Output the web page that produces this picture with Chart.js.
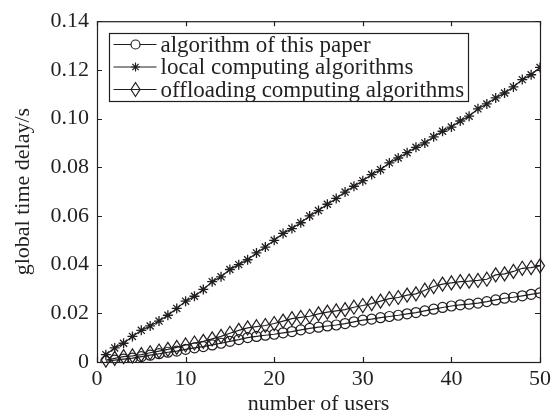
<!DOCTYPE html>
<html>
<head>
<meta charset="utf-8">
<script src="https://cdn.jsdelivr.net/npm/chart.js@4.4.1/dist/chart.umd.min.js"></script>
<style>
  html, body { margin: 0; padding: 0; background: #fff; }
  #wrap { width: 560px; height: 417px; }
</style>
</head>
<body>
<div id="wrap"><canvas id="delayChart" width="560" height="417"></canvas></div>
<script>
var users = [];
for (var i = 1; i <= 50; i++) { users.push(i); }

var paperDelay = [0.0003, 0.0008, 0.0012, 0.0016, 0.0022, 0.0028, 0.0034, 0.0040, 0.0045, 0.0052,
    0.0058, 0.0063, 0.0070, 0.0077, 0.0085, 0.0092, 0.0100, 0.0105, 0.0110, 0.0114,
    0.0120, 0.0125, 0.0132, 0.0138, 0.0143, 0.0148, 0.0152, 0.0158, 0.0165, 0.0172,
    0.0176, 0.0182, 0.0187, 0.0192, 0.0198, 0.0203, 0.0210, 0.0217, 0.0224, 0.0230,
    0.0235, 0.0238, 0.0242, 0.0248, 0.0255, 0.0262, 0.0266, 0.0272, 0.0278, 0.0284];

var localDelay = [0.0030, 0.0058, 0.0077, 0.0105, 0.0130, 0.0148, 0.0168, 0.0192, 0.0220, 0.0250,
    0.0270, 0.0298, 0.0330, 0.0350, 0.0380, 0.0400, 0.0420, 0.0448, 0.0472, 0.0500,
    0.0528, 0.0548, 0.0572, 0.0600, 0.0622, 0.0648, 0.0672, 0.0698, 0.0722, 0.0745,
    0.0770, 0.0790, 0.0818, 0.0838, 0.0860, 0.0882, 0.0900, 0.0925, 0.0948, 0.0965,
    0.0990, 0.1010, 0.1040, 0.1060, 0.1085, 0.1105, 0.1130, 0.1160, 0.1180, 0.1210];

var offloadDelay = [0.0008, 0.0015, 0.0022, 0.0025, 0.0030, 0.0038, 0.0045, 0.0052, 0.0060, 0.0070,
    0.0078, 0.0085, 0.0095, 0.0105, 0.0118, 0.0130, 0.0140, 0.0145, 0.0150, 0.0158,
    0.0168, 0.0178, 0.0183, 0.0188, 0.0198, 0.0205, 0.0210, 0.0215, 0.0225, 0.0232,
    0.0240, 0.0250, 0.0260, 0.0265, 0.0275, 0.0280, 0.0295, 0.0310, 0.0320, 0.0325,
    0.0330, 0.0332, 0.0335, 0.0340, 0.0358, 0.0362, 0.0372, 0.0385, 0.0388, 0.0395];

var seriesNames = ['algorithm of this paper', 'local computing algorithms', 'offloading computing algorithms'];
var xTicks = [0, 10, 20, 30, 40, 50];
var yTicks = [0, 0.02, 0.04, 0.06, 0.08, 0.10, 0.12, 0.14];

var ink = '#231f1f';
var serif = '"Liberation Serif", "DejaVu Serif", serif';

// narrow diamond, taller than wide
function drawDiamond(ctx, x, y) {
    ctx.beginPath();
    ctx.moveTo(x, y - 7);
    ctx.lineTo(x + 4.5, y);
    ctx.lineTo(x, y + 7);
    ctx.lineTo(x - 4.5, y);
    ctx.closePath();
    ctx.stroke();
}

function pairs(values) {
    return values.map(function (v, i) { return { x: users[i], y: v }; });
}

// diamonds for the third series, placed on the points the line controller computed
var diamondPlugin = {
    id: 'diamonds',
    afterDatasetsDraw: function (chart) {
        var ctx = chart.ctx;
        var meta = chart.getDatasetMeta(2);
        ctx.save();
        ctx.strokeStyle = ink;
        ctx.lineWidth = 1.2;
        meta.data.forEach(function (pt) { drawDiamond(ctx, pt.x, pt.y); });
        ctx.restore();
    }
};

// box, inward ticks and legend in matlab style
var framePlugin = {
    id: 'frame',
    afterDraw: function (chart) {
        var ctx = chart.ctx;
        var a = chart.chartArea;
        var xs = chart.scales.x, ys = chart.scales.y;
        ctx.save();
        ctx.strokeStyle = ink;
        ctx.lineWidth = 1.2;
        ctx.strokeRect(a.left + 0.5, a.top + 0.5, a.right - a.left, a.bottom - a.top);
        ctx.beginPath();
        xTicks.forEach(function (t) {
            var px = Math.round(xs.getPixelForValue(t)) + 0.5;
            ctx.moveTo(px, a.bottom); ctx.lineTo(px, a.bottom - 5);
            ctx.moveTo(px, a.top); ctx.lineTo(px, a.top + 5);
        });
        yTicks.forEach(function (t) {
            var py = Math.round(ys.getPixelForValue(t)) + 0.5;
            ctx.moveTo(a.left, py); ctx.lineTo(a.left + 5, py);
            ctx.moveTo(a.right, py); ctx.lineTo(a.right - 5, py);
        });
        ctx.stroke();

        // legend
        var bx = 109.5, by = 33.5, bw = 359, bh = 68;
        ctx.fillStyle = '#fff';
        ctx.fillRect(bx, by, bw, bh);
        ctx.strokeRect(bx, by, bw, bh);
        ctx.font = '23px ' + serif;
        ctx.textBaseline = 'middle';
        ctx.textAlign = 'left';
        chart.data.datasets.forEach(function (ds, i) {
            var ry = by + 11 + i * 22.5;
            ctx.strokeStyle = ink;
            ctx.lineWidth = 1.2;
            ctx.beginPath();
            ctx.moveTo(bx + 4, ry); ctx.lineTo(bx + 47, ry);
            ctx.stroke();
            if (i === 2) {
                drawDiamond(ctx, bx + 26, ry);
            } else {
                Chart.helpers.drawPoint(ctx, {
                    pointStyle: ds.pointStyle, radius: 4.5, borderWidth: 1.2, rotation: 0
                }, bx + 26, ry);
            }
            ctx.fillStyle = ink;
            ctx.fillText(ds.label, bx + 51, ry + 1);
        });
        ctx.restore();
    }
};

var chart = new Chart(document.getElementById('delayChart').getContext('2d'), {
    type: 'line',
    data: {
        datasets: [{
            label: seriesNames[0],
            data: pairs(paperDelay),
            borderColor: ink,
            borderWidth: 1.2,
            pointStyle: 'circle',
            pointRadius: 5,
            pointBorderColor: ink,
            pointBackgroundColor: 'rgba(0,0,0,0)',
            pointBorderWidth: 1.2
        }, {
            label: seriesNames[1],
            data: pairs(localDelay),
            borderColor: ink,
            borderWidth: 1.2,
            pointStyle: 'star',
            pointRadius: 5,
            pointBorderColor: ink,
            pointBorderWidth: 1.3
        }, {
            label: seriesNames[2],
            data: pairs(offloadDelay),
            borderColor: ink,
            borderWidth: 1.2,
            pointRadius: 0
        }]
    },
    options: {
        responsive: false,
        animation: false,
        layout: { padding: { top: 18, right: 20, left: 0, bottom: 0 } },
        plugins: { legend: { display: false }, tooltip: { enabled: false } },
        elements: { line: { tension: 0 } },
        scales: {
            x: {
                type: 'linear', min: 0, max: 50,
                afterBuildTicks: function (s) { s.ticks = xTicks.map(function (v) { return { value: v }; }); },
                afterFit: function (s) { s.height = 55; },
                grid: { display: false, drawTicks: false },
                border: { display: false },
                ticks: { color: ink, font: { family: serif, size: 22 }, padding: 4, maxRotation: 0 },
                title: { display: true, text: 'number of users', color: ink, font: { family: serif, size: 22 }, padding: { top: 0, bottom: 0 } }
            },
            y: {
                type: 'linear', min: 0, max: 0.14,
                afterBuildTicks: function (s) { s.ticks = yTicks.map(function (v) { return { value: v }; }); },
                afterFit: function (s) { s.width = 97; },
                grid: { display: false, drawTicks: false },
                border: { display: false },
                ticks: {
                    color: ink, font: { family: serif, size: 22 }, padding: 8,
                    callback: function (v) { return v === 0 ? '0' : v.toFixed(2); }
                },
                title: { display: true, text: 'global time delay/s', color: ink, font: { family: serif, size: 22 }, padding: { top: 10, bottom: 0 } }
            }
        }
    },
    plugins: [diamondPlugin, framePlugin]
});
</script>
</body>
</html>
